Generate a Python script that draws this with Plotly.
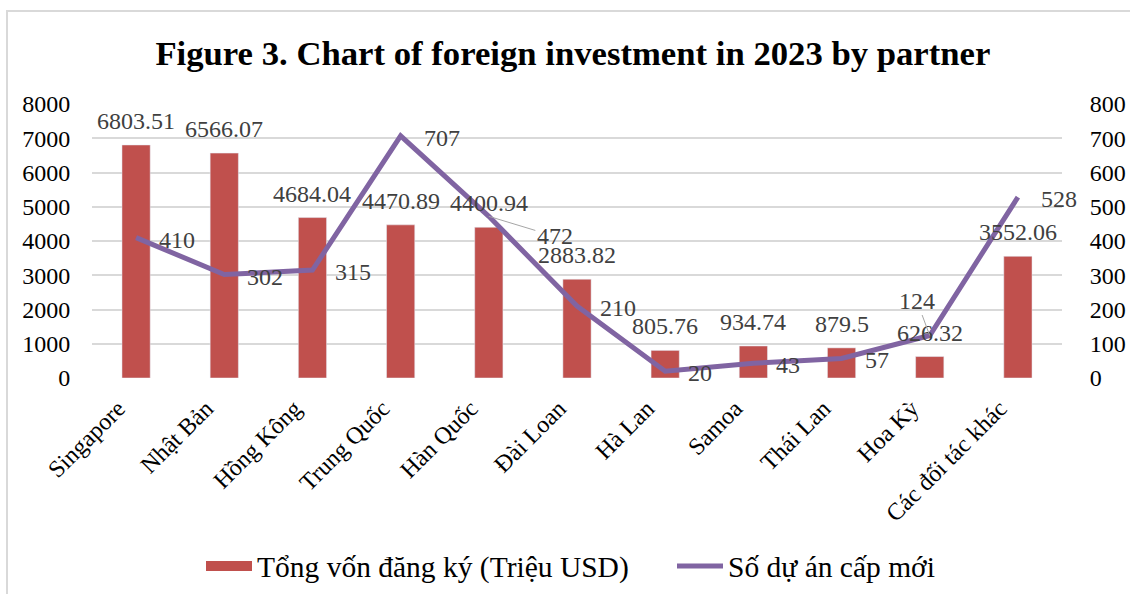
import plotly.graph_objects as go

categories = ["Singapore", "Nhật Bản", "Hồng Kông", "Trung Quốc", "Hàn Quốc", "Đài Loan",
              "Hà Lan", "Samoa", "Thái Lan", "Hoa Kỳ", "Các đối tác khác"]
capital = [6803.51, 6566.07, 4684.04, 4470.89, 4400.94, 2883.82, 805.76, 934.74, 879.5, 626.32, 3552.06]
capital_labels = ["6803.51", "6566.07", "4684.04", "4470.89", "4400.94", "2883.82",
                  "805.76", "934.74", "879.5", "626.32", "3552.06"]
projects = [410, 302, 315, 707, 472, 210, 20, 43, 57, 124, 528]

left_ticks = [0, 1000, 2000, 3000, 4000, 5000, 6000, 7000, 8000]
right_ticks = [0, 100, 200, 300, 400, 500, 600, 700, 800]

title_text = "Figure 3. Chart of foreign investment in 2023 by partner"
bar_name = "Tổng vốn đăng ký (Triệu USD)"
line_name = "Số dự án cấp mới"

SERIF = "Liberation Serif, Times New Roman, serif"
BAR_COLOR = "#C0504D"
LINE_COLOR = "#8064A2"
LABEL_COLOR = "#404040"

fig = go.Figure()
# legend entry for the bars (wide rectangle swatch like the reference)
fig.add_trace(go.Scatter(x=[None], y=[None], name=bar_name, mode="lines",
                         line=dict(color=BAR_COLOR, width=14), showlegend=True, yaxis="y"))
fig.add_trace(go.Bar(x=categories, y=capital, name=bar_name, marker_color=BAR_COLOR,
                     width=0.32, yaxis="y", showlegend=False))
fig.add_trace(go.Scatter(x=categories, y=projects, name=line_name, mode="lines",
                         line=dict(color=LINE_COLOR, width=5), yaxis="y2"))

LBL = dict(family=SERIF, size=24, color=LABEL_COLOR)
annotations = []
for c, v, t in zip(categories, capital, capital_labels):
    annotations.append(dict(x=c, y=v, xref="x", yref="y", text=t, showarrow=False,
                            yshift=24, font=LBL))
for c, v in zip(categories, projects):
    if v == 472:
        annotations.append(dict(x=c, y=v, xref="x", yref="y2", text=str(v), showarrow=True,
                                arrowhead=0, arrowwidth=1, arrowcolor="#A6A6A6",
                                ax=66, ay=20, font=LBL))
    elif v == 124:
        annotations.append(dict(x=c, y=v, xref="x", yref="y2", text=str(v), showarrow=True,
                                arrowhead=0, arrowwidth=1, arrowcolor="#A6A6A6",
                                ax=-13, ay=-35, font=LBL))
    else:
        annotations.append(dict(x=c, y=v, xref="x", yref="y2", text=str(v), showarrow=False,
                                xanchor="left", xshift=21, yshift=-2, font=LBL))

fig.update_layout(
    width=1130, height=594,
    margin=dict(l=92, r=68, t=104, b=216, autoexpand=False),
    paper_bgcolor="white", plot_bgcolor="white",
    title=dict(text="<b>" + title_text + "</b>", x=0.507, xanchor="center",
               y=1 - 53 / 594, yanchor="middle", yref="container",
               font=dict(family=SERIF, size=34.7, color="black")),
    font=dict(family=SERIF, size=24, color="black"),
    showlegend=True,
    legend=dict(orientation="h", x=(201 - 92) / 970, xanchor="left", y=-0.687, yanchor="middle",
                font=dict(family=SERIF, size=29.5, color="black"), itemwidth=46,
                entrywidth=410, entrywidthmode="pixels",
                bgcolor="rgba(0,0,0,0)", traceorder="normal"),
    xaxis=dict(type="category", tickangle=-45, showgrid=False, showline=False,
               automargin=False, range=[-0.5, 10.5], ticklabelshift=-18,
               ticks="outside", ticklen=6, tickcolor="rgba(0,0,0,0)",
               tickfont=dict(family=SERIF, size=24, color="black")),
    yaxis=dict(range=[0, 8000], tickvals=left_ticks, showgrid=True, gridcolor="#D9D9D9",
               gridwidth=1.5, zeroline=False, showline=False, automargin=False,
               ticks="outside", ticklen=16, tickcolor="rgba(0,0,0,0)",
               tickfont=dict(family=SERIF, size=24, color="black")),
    yaxis2=dict(range=[0, 800], tickvals=right_ticks, overlaying="y", side="right",
                showgrid=False, zeroline=False, showline=False, automargin=False,
                ticks="outside", ticklen=22, tickcolor="rgba(0,0,0,0)",
                tickfont=dict(family=SERIF, size=24, color="black")),
    annotations=annotations,
    shapes=[dict(type="rect", xref="paper", yref="paper",
                 x0=(7 - 92) / 970, x1=(1140 - 92) / 970,
                 y0=(378 - 610) / 274, y1=(378 - 11) / 274,
                 line=dict(color="#D9D9D9", width=2), fillcolor="rgba(0,0,0,0)", layer="below")],
)

fig.write_html("out.html", config={"displayModeBar": False},
               post_script="document.body.style.margin='0';document.body.style.overflow='hidden';")
